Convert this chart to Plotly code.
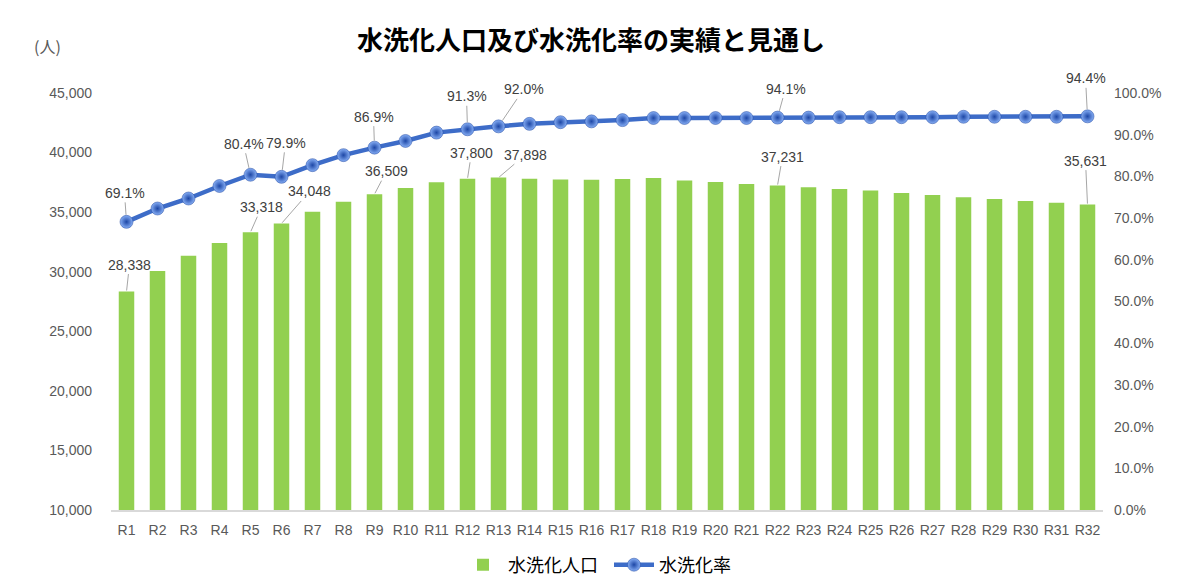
import plotly.graph_objects as go

categories = ["R1", "R2", "R3", "R4", "R5", "R6", "R7", "R8", "R9", "R10",
              "R11", "R12", "R13", "R14", "R15", "R16", "R17", "R18", "R19", "R20",
              "R21", "R22", "R23", "R24", "R25", "R26", "R27", "R28", "R29", "R30",
              "R31", "R32"]

population = [28338, 30050, 31350, 32400, 33318, 34048, 35040, 35870, 36509, 37020,
              37500, 37800, 37898, 37800, 37740, 37710, 37780, 37860, 37660, 37540,
              37370, 37231, 37090, 36945, 36810, 36610, 36440, 36250, 36105, 35940,
              35790, 35631]

rate = [69.1, 72.3, 74.7, 77.7, 80.4, 79.9, 82.7, 85.1, 86.9, 88.5,
        90.5, 91.3, 92.0, 92.6, 93.0, 93.2, 93.5, 94.0, 94.0, 94.0,
        94.0, 94.1, 94.1, 94.2, 94.2, 94.2, 94.2, 94.3, 94.3, 94.3,
        94.3, 94.4]

labeled_idx = [0, 4, 5, 8, 11, 12, 21, 31]

# label offsets (pixels) of label centre from the data point
bar_label_offsets = {0: (3, -27), 4: (11, -25), 5: (28, -32), 8: (12, -23),
                     11: (4, -26), 12: (27, -23), 21: (5, -29), 31: (-2, -44)}
line_label_offsets = {0: (-2, -29), 4: (-7, -31), 5: (4, -34), 8: (-1, -31),
                      11: (-1, -33), 12: (25, -37), 21: (8, -29), 31: (-2, -38)}

TICK_FONT = dict(family="Liberation Sans, Noto Sans CJK JP", size=14, color="#595959")
LABEL_FONT = dict(family="Liberation Sans, Noto Sans CJK JP", size=14, color="#404040")

# page body adds an 8px offset, so the figure is 8px smaller than the window
W, H = 1170, 575
L, T = 103, 85
PW, PH = 992, 417

fig = go.Figure()

fig.add_trace(go.Bar(
    x=categories, y=population, name="水洗化人口",
    marker=dict(color="#92D050", line=dict(width=0)),
    yaxis="y",
))

fig.add_trace(go.Scatter(
    x=categories, y=rate, name="水洗化率", mode="lines+markers",
    line=dict(color="#3D6CC8", width=4.5),
    marker=dict(size=13, color="#86AEF5",
                gradient=dict(type="radial", color="#1D47A6"),
                line=dict(width=0.5, color="#23489E")),
    yaxis="y2",
))

annotations = []
for i in labeled_idx:
    ax, ay = bar_label_offsets[i]
    annotations.append(dict(
        x=categories[i], y=population[i], xref="x", yref="y",
        text=f"{population[i]:,}", showarrow=True, arrowhead=0,
        arrowwidth=1, arrowcolor="#A6A6A6", ax=ax, ay=ay, standoff=1,
        font=LABEL_FONT,
    ))
    ax, ay = line_label_offsets[i]
    annotations.append(dict(
        x=categories[i], y=rate[i], xref="x", yref="y2",
        text=f"{rate[i]:.1f}%", showarrow=True, arrowhead=0,
        arrowwidth=1, arrowcolor="#A6A6A6", ax=ax, ay=ay, standoff=7,
        font=LABEL_FONT,
    ))

annotations.append(dict(
    text="(人)", xref="paper", yref="paper", x=(47 - 111) / PW, y=(510 - 46) / PH,
    xanchor="center", yanchor="middle", showarrow=False,
    font=dict(family="Noto Sans CJK JP", size=16, color="#595959"),
))

fig.update_layout(
    template="none",
    width=W, height=H,
    margin=dict(l=L, r=W - L - PW, t=T, b=H - T - PH, autoexpand=False),
    paper_bgcolor="white", plot_bgcolor="white",
    title=dict(text="<b>水洗化人口及び水洗化率の実績と見通し</b>",
               x=583 / W, xanchor="center", y=1 - 33 / H, yanchor="middle",
               font=dict(family="Noto Sans CJK JP", size=26, color="#000000")),
    bargap=0.5,
    showlegend=True,
    legend=dict(orientation="h", x=(609 - 111) / PW, xanchor="center",
                y=(510 - 565) / PH, yanchor="middle",
                font=dict(family="Noto Sans CJK JP", size=18, color="#000000"),
                itemwidth=40, entrywidth=96, entrywidthmode="pixels",
                traceorder="normal", bgcolor="rgba(0,0,0,0)"),
    xaxis=dict(range=[-0.5, len(categories) - 0.5], autorange=False,
               showgrid=False, showline=True, linecolor="#D9D9D9", linewidth=1.5,
               ticks="", tickfont=TICK_FONT, ticklabelstandoff=6, automargin=False),
    yaxis=dict(range=[10000, 45000], dtick=5000, tickformat=",", showgrid=False,
               zeroline=False, showline=False, ticks="", tickfont=TICK_FONT,
               ticklabelstandoff=18, automargin=False),
    yaxis2=dict(range=[0, 100], dtick=10, tickformat=".1f", ticksuffix="%",
                overlaying="y", side="right", showgrid=False, zeroline=False,
                showline=False, ticks="", tickfont=TICK_FONT, ticklabelstandoff=10,
                automargin=False),
    annotations=annotations,
    shapes=[dict(type="rect", xref="paper", yref="paper",
                 x0=(7 - 111) / PW, x1=(1171 - 111) / PW,
                 y0=(510 - 590) / PH, y1=(510 - 7) / PH,
                 line=dict(color="#D9D9D9", width=1), fillcolor="rgba(0,0,0,0)",
                 layer="below")],
)

fig.write_html("out.html")
